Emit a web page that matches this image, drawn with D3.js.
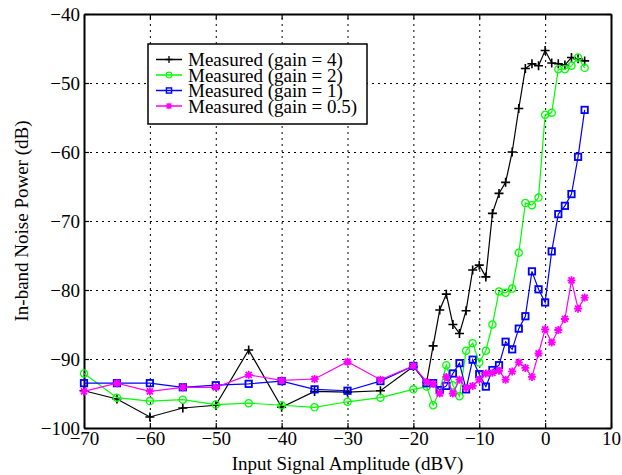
<!DOCTYPE html>
<html>
<head>
<meta charset="utf-8">
<script src="https://cdn.jsdelivr.net/npm/d3@7"></script>
<style>
  body { margin: 0; background: #fff; }
  text { font-family: "Liberation Serif", "Times New Roman", serif; fill: #000; }
  .tick text { font-size: 19px; }
  .grid line { stroke: #000; stroke-width: 1; stroke-dasharray: 2,4; }
  .grid path { display: none; }
</style>
</head>
<body>
<div id="chart"></div>
<script>
// x positions (dBV)
const xLeft = [-70, -65, -60, -55, -50, -45, -40, -35, -30, -25, -20];
const xDense = [-18, -17, -16, -15, -14, -13, -12, -11, -10, -9, -8, -7, -6, -5, -4, -3, -2, -1, 0, 1, 2, 3, 4, 5, 6];
const xAll = xLeft.concat(xDense);

// in-band noise power (dB)
const gain4 = [-94.6, -95.8, -98.4, -97.1, -96.7, -88.7, -97.0, -94.7, -94.8, -94.6, -91.1,
    -93.4, -88.1, -82.9, -80.6, -85.0, -86.3, -83.0, -77.1, -76.4, -78.1, -68.9, -66.0, -64.4,
    -60.0, -53.7, -47.9, -47.2, -47.5, -45.3, -47.1, -47.2, -47.4, -46.3, -46.5, -46.8];
const gain2 = [-92.1, -95.6, -96.1, -95.9, -96.6, -96.4, -96.7, -97.0, -96.2, -95.6, -94.4,
    -94.0, -96.7, -94.6, -90.9, -93.8, -95.4, -88.8, -87.7, -90.5, -88.8, -85.0, -80.2, -80.4,
    -79.8, -74.6, -67.4, -67.7, -66.6, -54.6, -54.3, -48.0, -48.0, -47.5, -46.3, -47.8];
const gain1 = [-93.5, -93.5, -93.5, -94.1, -93.8, -93.6, -93.2, -94.4, -94.6, -93.2, -91.0,
    -93.5, -93.5, -94.5, -93.9, -92.1, -90.6, -94.4, -90.1, -92.2, -94.0, -91.6, -90.9, -87.5,
    -88.6, -85.6, -83.8, -77.3, -79.9, -81.8, -74.4, -69.0, -67.8, -66.1, -60.7, -53.9];
const gain05 = [-94.7, -93.5, -94.7, -94.1, -94.1, -92.3, -93.1, -92.9, -90.4, -93.0, -91.0,
    -93.3, -93.6, -95.0, -92.6, -95.0, -93.0, -94.2, -93.9, -93.0, -92.1, -92.0, -91.7, -93.0,
    -91.8, -90.5, -91.3, -92.6, -89.2, -85.7, -87.6, -85.8, -84.2, -78.6, -82.7, -81.1];

const xTicks = [-70, -60, -50, -40, -30, -20, -10, 0, 10];
const yTicks = [-100, -90, -80, -70, -60, -50, -40];

const series = [
    {name: "Measured (gain = 4)", values: gain4, color: "#000000", marker: "plus"},
    {name: "Measured (gain = 2)", values: gain2, color: "#00ff00", marker: "circle"},
    {name: "Measured (gain = 1)", values: gain1, color: "#0000ff", marker: "square"},
    {name: "Measured (gain = 0.5)", values: gain05, color: "#ff00ff", marker: "star"}
];

const W = 622, H = 475;
const margin = {top: 14, right: 11, bottom: 47, left: 84};
let width = W - margin.left - margin.right,
    height = H - margin.top - margin.bottom;

let svg = d3.select("#chart")
    .append("svg")
    .attr("width", W)
    .attr("height", H)
    .append("g")
    .attr("transform", "translate(" + margin.left + "," + margin.top + ")");

let x = d3.scaleLinear().domain([-70, 10]).range([0, width]);
let y = d3.scaleLinear().domain([-100, -40]).range([height, 0]);

// dotted grid
svg.append("g")
    .attr("class", "grid")
    .attr("transform", "translate(0," + height + ")")
    .call(d3.axisBottom(x).tickValues(xTicks.slice(1, -1)).tickSize(-height).tickFormat(""));
svg.append("g")
    .attr("class", "grid")
    .call(d3.axisLeft(y).tickValues(yTicks.slice(1, -1)).tickSize(-width).tickFormat(""));

// axes with inward ticks on all four sides
function styleAxis(g) {
    g.select(".domain").attr("stroke", "#000").attr("stroke-width", 2);
    g.selectAll(".tick line").attr("stroke", "#000").attr("stroke-width", 1.2);
}
svg.append("g")
    .attr("transform", "translate(0," + height + ")")
    .call(d3.axisBottom(x).tickValues(xTicks).tickSizeInner(-5).tickSizeOuter(0).tickPadding(4)
        .tickFormat(d3.format("d")))
    .call(styleAxis);
svg.append("g")
    .call(d3.axisTop(x).tickValues(xTicks).tickSizeInner(-5).tickSizeOuter(0).tickFormat(""))
    .call(styleAxis);
svg.append("g")
    .call(d3.axisLeft(y).tickValues(yTicks).tickSizeInner(-5).tickSizeOuter(0).tickPadding(4)
        .tickFormat(d3.format("d")))
    .call(styleAxis);
svg.append("g")
    .attr("transform", "translate(" + width + ",0)")
    .call(d3.axisRight(y).tickValues(yTicks).tickSizeInner(-5).tickSizeOuter(0).tickFormat(""))
    .call(styleAxis);

svg.selectAll(".tick text").attr("font-size", 19).attr("font-family", "Liberation Serif, serif");

// marker drawing
function drawMarker(g, type, color) {
    if (type === "plus") {
        g.append("path").attr("d", "M-4.5,0H4.5M0,-4.5V4.5")
            .attr("stroke", color).attr("stroke-width", 1.6).attr("fill", "none");
    } else if (type === "circle") {
        g.append("circle").attr("r", 3.6)
            .attr("stroke", color).attr("stroke-width", 1.3).attr("fill", "none");
    } else if (type === "square") {
        g.append("rect").attr("x", -3.2).attr("y", -3.2).attr("width", 6.4).attr("height", 6.4)
            .attr("stroke", color).attr("stroke-width", 1.8).attr("fill", "none");
    } else if (type === "star") {
        g.append("path").attr("d", "M-4,0H4M0,-4V4M-3,-3L3,3M-3,3L3,-3")
            .attr("stroke", color).attr("stroke-width", 1.8).attr("fill", "none");
    }
}

let line = d3.line()
    .x(function (d) { return x(d[0]); })
    .y(function (d) { return y(d[1]); });

series.forEach(function (s) {
    let pts = xAll.map(function (v, i) { return [v, s.values[i]]; });
    svg.append("path")
        .datum(pts)
        .attr("fill", "none")
        .attr("stroke", s.color)
        .attr("stroke-width", 1.2)
        .attr("d", line);
    svg.selectAll(null)
        .data(pts)
        .enter()
        .append("g")
        .attr("transform", function (d) { return "translate(" + x(d[0]) + "," + y(d[1]) + ")"; })
        .each(function () { drawMarker(d3.select(this), s.marker, s.color); });
});

// legend
let legend = svg.append("g").attr("transform", "translate(" + (148 - margin.left) + "," + (44 - margin.top) + ")");
legend.append("rect")
    .attr("width", 219).attr("height", 80)
    .attr("fill", "#fff").attr("stroke", "#000").attr("stroke-width", 1.5);
series.forEach(function (s, i) {
    let row = legend.append("g").attr("transform", "translate(0," + (15.5 + i * 15.5) + ")");
    row.append("line").attr("x1", 8).attr("x2", 34).attr("y1", 0).attr("y2", 0)
        .attr("stroke", s.color).attr("stroke-width", 1.5);
    let m = row.append("g").attr("transform", "translate(21,0) scale(0.8)");
    drawMarker(m, s.marker, s.color);
    row.append("text").attr("x", 40).attr("y", 6.5).attr("font-size", 19).text(s.name);
});

// axis titles
svg.append("text")
    .attr("x", width / 2).attr("y", height + 42)
    .attr("text-anchor", "middle").attr("font-size", 19)
    .text("Input Signal Amplitude (dBV)");
svg.append("text")
    .attr("transform", "translate(-56," + (height / 2) + ") rotate(-90)")
    .attr("text-anchor", "middle").attr("font-size", 19)
    .text("In-band Noise Power (dB)");
</script>
</body>
</html>
